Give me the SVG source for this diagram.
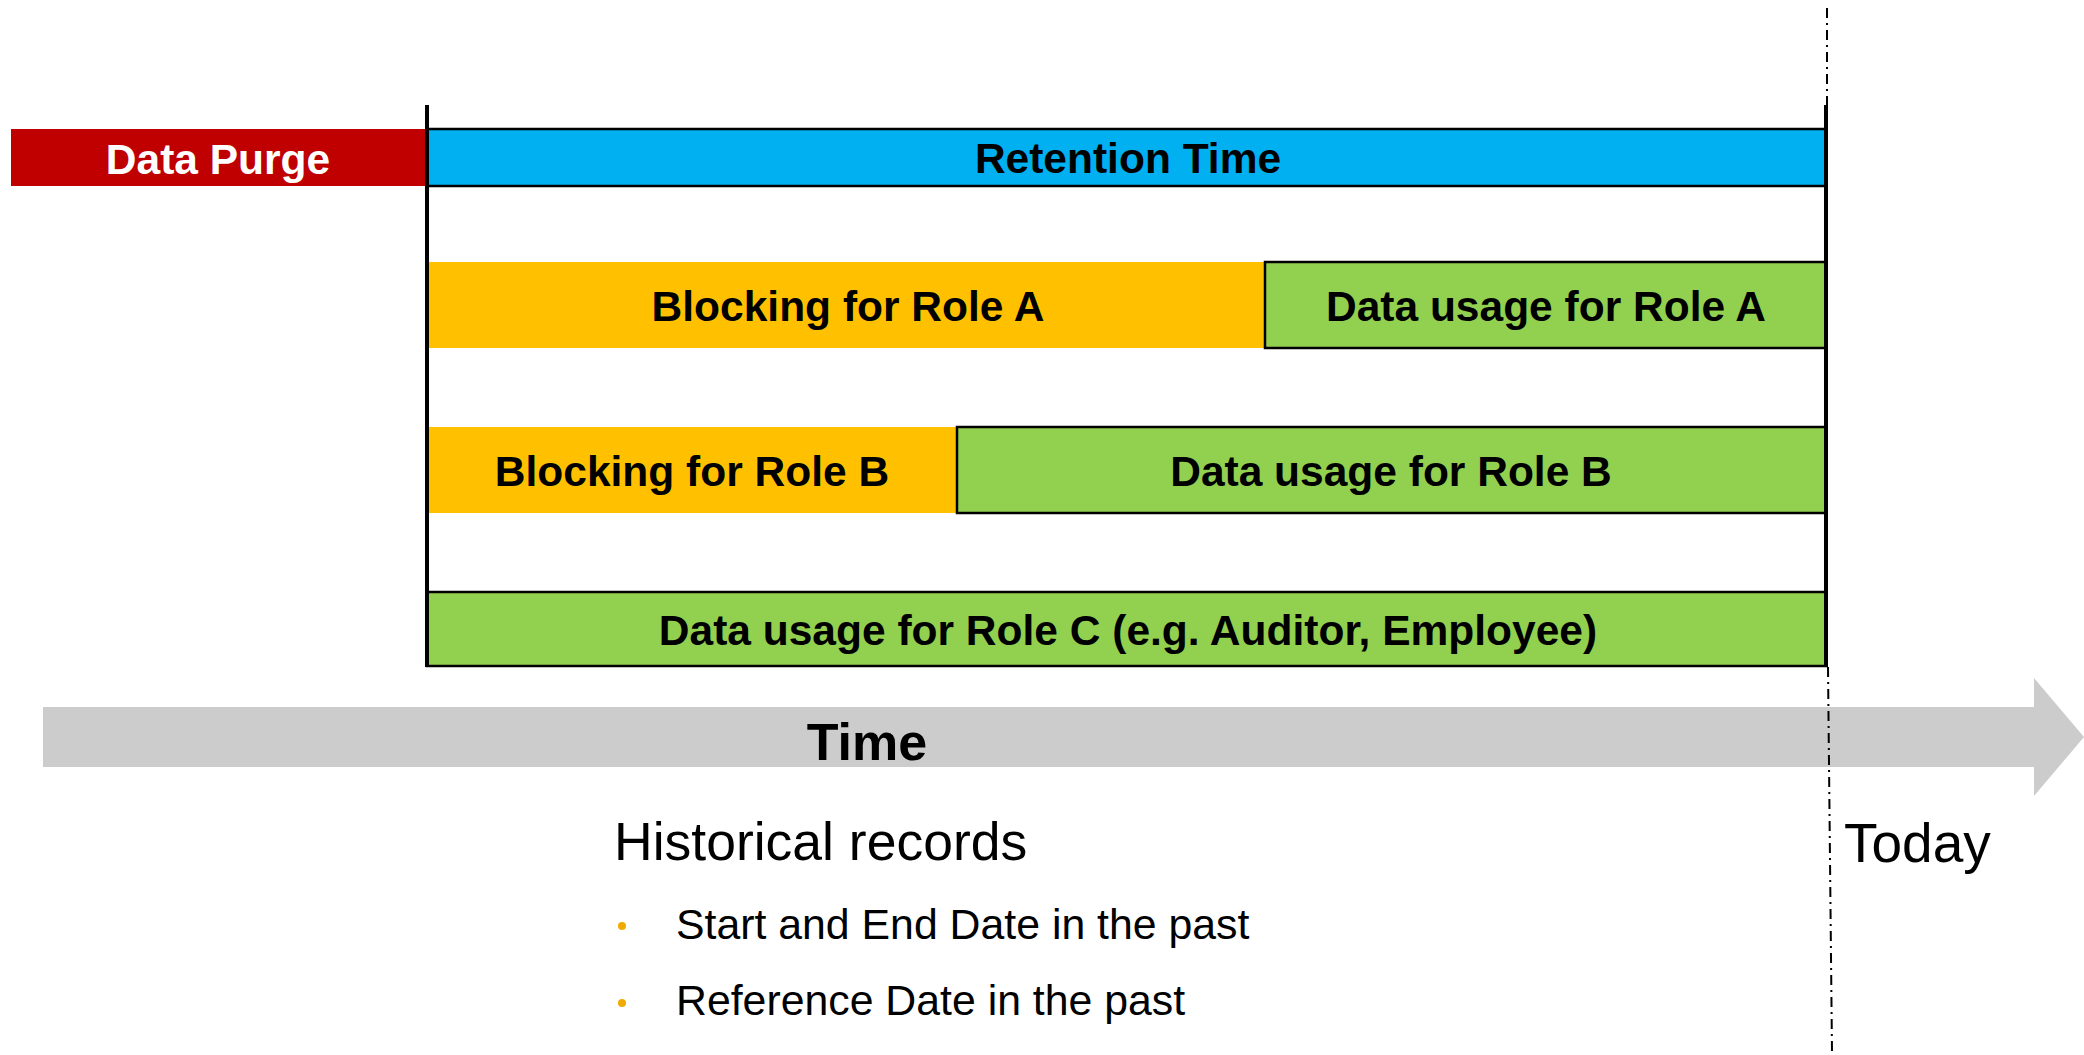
<svg xmlns="http://www.w3.org/2000/svg" width="2084" height="1055" viewBox="0 0 2084 1055">
<style>
.lbl{font-family:"Liberation Sans",Arial,sans-serif;font-weight:bold;font-size:42.5px;fill:#000;text-anchor:middle}
.reg{font-family:"Liberation Sans",Arial,sans-serif;fill:#000}
.box{stroke:#000;stroke-width:2.5}
.green{fill:#92D050}
.yellow{fill:#FFC000}
.vline{stroke:#000;stroke-width:4}
.dash{stroke:#000;stroke-width:2;stroke-dasharray:10 5 2 5;fill:none}
</style>
<rect width="2084" height="1055" fill="#fff"/>
<g id="time-arrow">
<polygon points="43,707 2034,707 2034,678 2084,737 2034,796 2034,767 43,767" fill="#CCCCCC"/>
<text class="lbl" x="867" y="760" style="font-size:52px">Time</text>
</g>
<g id="data-purge">
<rect x="11" y="129" width="416" height="57" fill="#C00000"/>
<text class="lbl" x="218" y="174" style="fill:#fff">Data Purge</text>
</g>
<g id="retention-time">
<rect class="box" x="427" y="129" width="1399" height="57" fill="#00B0F0"/>
<text class="lbl" x="1128" y="173">Retention Time</text>
</g>
<g id="blocking-a">
<rect class="yellow" x="427" y="262" width="838" height="86"/>
<text class="lbl" x="848" y="321">Blocking for Role A</text>
</g>
<g id="usage-a">
<rect class="box green" x="1265" y="262" width="561" height="86"/>
<text class="lbl" x="1546" y="321">Data usage for Role A</text>
</g>
<g id="blocking-b">
<rect class="yellow" x="427" y="427" width="530" height="86"/>
<text class="lbl" x="692" y="486">Blocking for Role B</text>
</g>
<g id="usage-b">
<rect class="box green" x="957" y="427" width="869" height="86"/>
<text class="lbl" x="1391" y="486">Data usage for Role B</text>
</g>
<g id="usage-c">
<rect class="box green" x="427" y="592" width="1399" height="74"/>
<text class="lbl" x="1128" y="645">Data usage for Role C (e.g. Auditor, Employee)</text>
</g>
<g id="connectors">
<line class="vline" x1="427" y1="105" x2="427" y2="667"/>
<line class="vline" x1="1826" y1="105" x2="1826" y2="667"/>
<line class="dash" x1="1827" y1="8" x2="1827" y2="105"/>
<line class="dash" x1="1828" y1="667" x2="1832" y2="1052"/>
</g>
<g id="today">
<text class="reg" x="1844" y="862" style="font-size:55px">Today</text>
</g>
<g id="historical">
<text class="reg" x="614" y="860" style="font-size:53.5px">Historical records</text>
<circle cx="622" cy="926" r="4" fill="#F0AB00"/>
<text class="reg" x="676" y="939" style="font-size:42.8px">Start and End Date in the past</text>
<circle cx="622" cy="1003" r="4" fill="#F0AB00"/>
<text class="reg" x="676" y="1015" style="font-size:42.8px">Reference Date in the past</text>
</g>
</svg>
